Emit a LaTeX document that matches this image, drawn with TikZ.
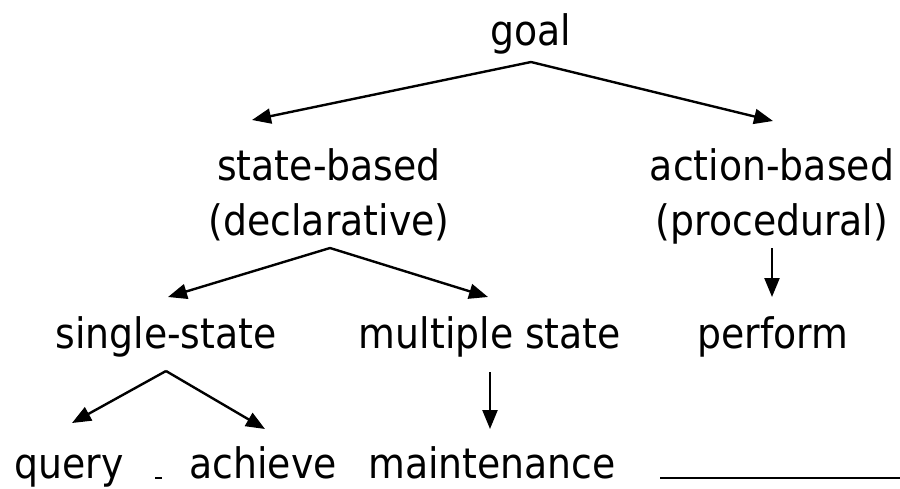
\documentclass[tikz,border=0pt]{standalone}
\usepackage{fontspec}
\setmainfont{DejaVu Sans Condensed}
\usetikzlibrary{arrows.meta}
\tikzset{
  lbl/.style={anchor=base, inner sep=0pt, font=\fontsize{42}{50}\selectfont},
  arr/.style={line width=2.4pt, -{Triangle[length=19pt,width=15pt]}},
  plain/.style={line width=2.8pt},
}
\begin{document}
\begin{tikzpicture}[x=1pt,y=-1pt]
\useasboundingbox (0,0) rectangle (900,488);
\node[lbl] (goal) at (531,45) {goal};
\node[lbl] (sb) at (329,180) {state-based};
\node[lbl] (decl) at (329,235) {(declarative)};
\node[lbl] (ab) at (772,180) {action-based};
\node[lbl] (proc) at (772,235) {(procedural)};
\node[lbl] (ss) at (166,348) {single-state};
\node[lbl] (ms) at (490,348) {multiple state};
\node[lbl] (perf) at (773,348) {perform};
\node[lbl] (query) at (69,478) {query};
\node[lbl] (ach) at (263,478) {achieve};
\node[lbl] (maint) at (492,478) {maintenance};
% apex / tip coordinates
\coordinate (g0) at (531,62);
\coordinate (gL) at (252,120);
\coordinate (gR) at (773,121);
\coordinate (d0) at (330,248);
\coordinate (dL) at (168,297);
\coordinate (dR) at (488,297);
\coordinate (p0) at (772,248);
\coordinate (pB) at (772,297);
\coordinate (s0) at (166,371);
\coordinate (sL) at (72,423);
\coordinate (sR) at (265,429);
\coordinate (m0) at (490,372);
\coordinate (mB) at (490,429);
\draw[arr] (g0) -- (gL);
\draw[arr] (g0) -- (gR);
\draw[arr] (d0) -- (dL);
\draw[arr] (d0) -- (dR);
\draw[arr] (p0) -- (pB);
\draw[arr] (s0) -- (sL);
\draw[arr] (s0) -- (sR);
\draw[arr] (m0) -- (mB);
% small dash and bottom line
\coordinate (dashA) at (155,478);
\coordinate (dashB) at (162,478);
\draw[line width=2.4pt] (dashA) -- (dashB);
\coordinate (lineA) at (660,478);
\coordinate (lineB) at (900,478);
\draw[plain] (lineA) -- (lineB);
\end{tikzpicture}
\end{document}
